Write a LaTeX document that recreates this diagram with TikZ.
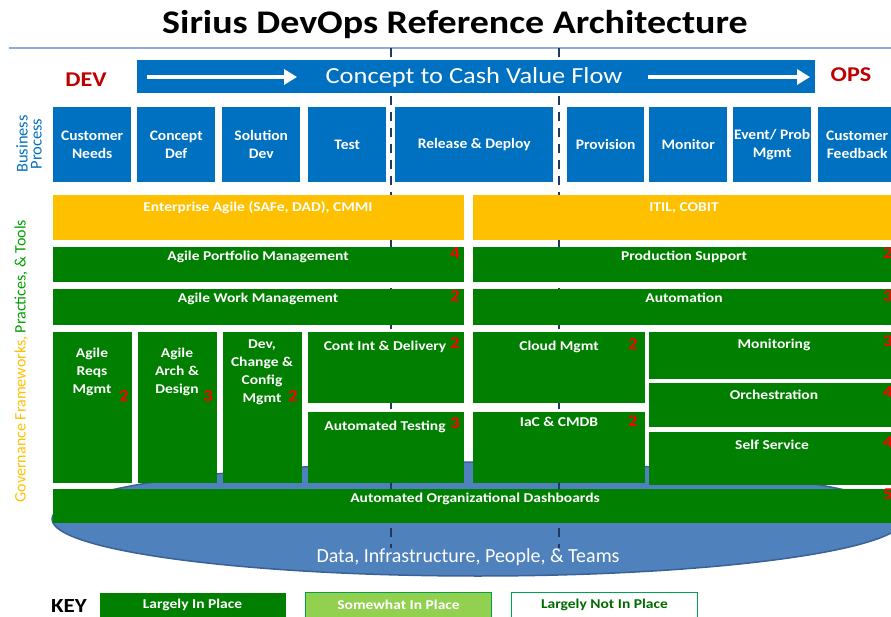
\documentclass[tikz,border=0pt]{standalone}
\usepackage{fontspec}
\setmainfont{Carlito}[FakeStretch=1.15]
\newfontfamily\bpfont{Carlito}[FakeStretch=1.07]
\newfontfamily\plainfont{Carlito}
\usetikzlibrary{arrows.meta,shapes.geometric}
\definecolor{bpblue}{HTML}{0070C0}
\definecolor{grn}{HTML}{007F00}
\definecolor{yel}{HTML}{FFC000}
\definecolor{ellf}{HTML}{4F81BD}
\definecolor{ellb}{HTML}{3B6296}
\definecolor{navy}{HTML}{1F3864}
\definecolor{rulec}{HTML}{8FAADC}
\definecolor{lgreen}{HTML}{92D050}
\definecolor{ngreen}{HTML}{00A050}
\definecolor{txgreen}{HTML}{00A000}
\definecolor{dgreen}{HTML}{006A00}
\definecolor{devred}{HTML}{C00000}
\newcommand{\rbox}[7]{%
  \pgfmathsetmacro{\rw}{#5-#3}\pgfmathsetmacro{\rh}{#6-#4}%
  \node[#2, anchor=north west, minimum width=\rw pt, minimum height=\rh pt] (#1) at (#3,#4) {#7};}
\tikzset{
  bpbox/.style={fill=bpblue, draw=none, inner sep=0pt, text=white, align=center,
    font=\bpfont\fontsize{14.5}{18}\selectfont\bfseries},
  ybox/.style={fill=yel, draw=none, inner sep=0pt},
  gbox/.style={fill=grn, draw=none, inner sep=0pt},
  gtext/.style={text=white, align=center, inner sep=0pt, text height=0.7em, text depth=0.2em,
    yshift=-2pt, font=\fontsize{13.5}{18}\selectfont\bfseries},
  gmulti/.style={text=white, align=center, inner sep=0pt, yshift=-2pt,
    font=\fontsize{13.5}{18}\selectfont\bfseries},
  num/.style={text=red, inner sep=0pt, text height=0.7em, text depth=0.2em,
    font=\fontsize{16.5}{16.5}\selectfont\bfseries},
  dashln/.style={navy, line width=2pt, dash pattern=on 9pt off 7pt},
  keybox/.style={inner sep=0pt, align=center, line width=1pt,
    font=\fontsize{13.5}{13.5}\selectfont\bfseries},
  flowarrow/.style={white, line width=3.5pt, -{Triangle[length=13pt,width=15pt]}}
}
\begin{document}
\begin{tikzpicture}[x=1pt,y=-1pt]
\useasboundingbox (0,0) rectangle (891,617);
\clip (0,0) rectangle (891,617);

% title and rule
\node[font=\fontsize{33}{33}\selectfont\bfseries, inner sep=0pt] (title) at (455,25) {Sirius DevOps Reference Architecture};
\coordinate (rl) at (9,48);
\coordinate (rr) at (891,48);
\draw[rulec, line width=1.5pt] (rl) -- (rr);

% foundation ellipse
\node[ellipse, fill=ellf, draw=ellb, line width=1.5pt, minimum width=852pt, minimum height=114pt] (base) at (478,519) {};
\node[text=white, inner sep=0pt, font=\plainfont\fontsize{20}{20}\selectfont] (basetxt) at (468,557) {Data, Infrastructure, People, \& Teams};

% dashed dev/ops boundaries
\coordinate (d1t) at (391,48); \coordinate (d1b) at (391,548);
\coordinate (d2t) at (559,48); \coordinate (d2b) at (559,548);
\draw[dashln] (d1t) -- (d1b);
\draw[dashln] (d2t) -- (d2b);

% banner
\rbox{banner}{fill=bpblue, inner sep=0pt}{137}{60}{815}{93}{}
\node[text=white, inner sep=0pt, font=\fontsize{23}{23}\selectfont] (bantxt) at (474,77) {Concept to Cash Value Flow};
\coordinate (a1s) at (147,77); \coordinate (a1e) at (297,77);
\coordinate (a2s) at (648,77); \coordinate (a2e) at (810,77);
\draw[flowarrow] (a1s) -- (a1e);
\draw[flowarrow] (a2s) -- (a2e);
\node[text=devred, font=\fontsize{21}{21}\selectfont\bfseries, inner sep=0pt] (dev) at (86,80) {DEV};
\node[text=devred, font=\fontsize{21}{21}\selectfont\bfseries, inner sep=0pt] (ops) at (851,75) {OPS};

% side labels
\node[rotate=90, text=bpblue, align=center, inner sep=0pt, font=\plainfont\fontsize{16.5}{14}\selectfont] (bplab) at (29,144) {Business\\Process};
\node[rotate=90, inner sep=0pt, font=\plainfont\fontsize{16}{16}\selectfont] (govlab) at (21,361) {\textcolor{yel}{Governance Frameworks,} \textcolor{txgreen}{Practices, \& Tools}};

% business process boxes
\rbox{cn}{bpbox}{53}{107}{131}{182}{Customer\\Needs}
\rbox{cd}{bpbox}{137}{107}{215}{182}{Concept\\Def}
\rbox{sd}{bpbox}{222}{107}{300}{182}{Solution\\Dev}
\rbox{ts}{bpbox}{308}{107}{386}{182}{Test}
\rbox{rd}{bpbox}{395}{107}{553}{182}{Release \& Deploy}
\rbox{pv}{bpbox}{567}{107}{644}{182}{Provision}
\rbox{mn}{bpbox}{649}{107}{727}{182}{Monitor}
\rbox{ep}{bpbox}{733}{107}{811}{182}{Event/ Prob\\Mgmt}
\rbox{cf}{bpbox}{818}{107}{896}{182}{Customer\\Feedback}

% frameworks
\rbox{ya}{ybox}{53}{195}{464}{240}{}
\node[gtext] (yat) at (258,207) {Enterprise Agile (SAFe, DAD), CMMI};
\rbox{yb}{ybox}{473}{195}{896}{240}{}
\node[gtext] (ybt) at (684,207) {ITIL, COBIT};

% practices - dev side
\rbox{apm}{gbox}{53}{247}{464}{282}{}
\node[gtext] (apmt) at (258,256) {Agile Portfolio Management};
\node[num] (apmn) at (455,256) {4};
\rbox{awm}{gbox}{53}{289}{464}{325}{}
\node[gtext] (awmt) at (258,298) {Agile Work Management};
\node[num] (awmn) at (455,299) {2};
\rbox{arm}{gbox}{53}{332}{132}{483}{}
\node[gmulti] (armt) at (92,370) {Agile\\Reqs\\Mgmt};
\node[num] (armn) at (124,399) {2};
\rbox{aad}{gbox}{138}{332}{217}{483}{}
\node[gmulti] (aadt) at (177,370) {Agile\\Arch \&\\Design};
\node[num] (aadn) at (208,399) {3};
\rbox{dcc}{gbox}{223}{332}{302}{483}{}
\node[gmulti] (dcct) at (262,370) {Dev,\\Change \&\\Config\\Mgmt};
\node[num] (dccn) at (293,399) {2};
\rbox{cid}{gbox}{308}{332}{464}{403}{}
\node[gtext] (cidt) at (385,346) {Cont Int \& Delivery};
\node[num] (cidn) at (455,346) {2};
\rbox{atst}{gbox}{308}{412}{464}{483}{}
\node[gtext] (atstt) at (385,426) {Automated Testing};
\node[num] (atstn) at (455,426) {3};

% practices - ops side
\rbox{ps}{gbox}{473}{247}{896}{282}{}
\node[gtext] (pst) at (684,256) {Production Support};
\node[num] (psn) at (888,256) {2};
\rbox{au}{gbox}{473}{289}{896}{325}{}
\node[gtext] (aut) at (684,298) {Automation};
\node[num] (aun) at (888,299) {3};
\rbox{cm}{gbox}{473}{332}{645}{403}{}
\node[gtext] (cmt) at (559,346) {Cloud Mgmt};
\node[num] (cmn) at (633,347) {2};
\rbox{iac}{gbox}{473}{412}{645}{483}{}
\node[gtext] (iact) at (559,422) {IaC \& CMDB};
\node[num] (iacn) at (633,424) {2};
\rbox{mon}{gbox}{649}{332}{896}{379}{}
\node[gtext] (mont) at (774,344) {Monitoring};
\node[num] (monn) at (888,344) {3};
\rbox{orc}{gbox}{649}{383}{896}{427}{}
\node[gtext] (orct) at (774,395) {Orchestration};
\node[num] (orcn) at (888,395) {4};
\rbox{ss}{gbox}{649}{432}{896}{485}{}
\node[gtext] (sst) at (772,445) {Self Service};
\node[num] (ssn) at (888,445) {4};

% dashboards
\rbox{dash}{gbox}{53}{489}{896}{523}{}
\node[gtext] (dasht) at (475,498) {Automated Organizational Dashboards};
\node[num] (dashn) at (888,497) {5};

% key
\node[font=\fontsize{20}{20}\selectfont\bfseries, inner sep=0pt] (key) at (69,606) {KEY};
\rbox{k1}{keybox, fill=grn, text=white}{99}{592}{285}{617}{Largely In Place}
\rbox{k2}{keybox, fill=lgreen, draw=ngreen, text=white}{305}{592}{491}{617}{Somewhat In Place}
\rbox{k3}{keybox, fill=white, draw=ngreen, text=dgreen}{511}{592}{697}{617}{Largely Not In Place}
\end{tikzpicture}
\end{document}
